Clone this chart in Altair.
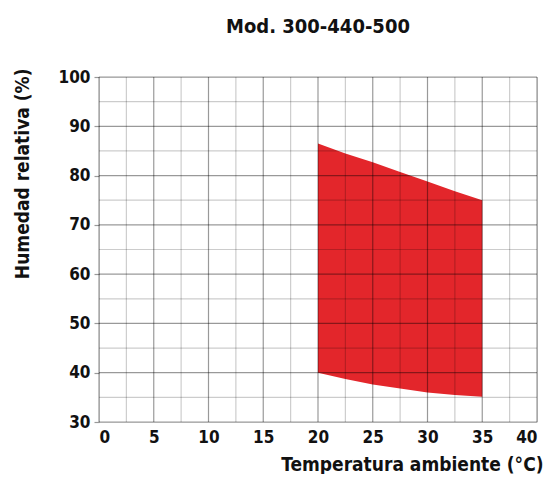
import altair as alt
import pandas as pd

# Data
temp = [20, 22.5, 25, 27.5, 30, 32.5, 35]
hum_max = [86.5, 84.5, 82.7, 80.7, 78.8, 76.8, 75.0]
hum_min = [40.0, 38.7, 37.6, 36.8, 36.0, 35.5, 35.1]

x_ticks = [0, 5, 10, 15, 20, 25, 30, 35, 40]
y_ticks = [30, 40, 50, 60, 70, 80, 90, 100]
x_grid = [i * 2.5 for i in range(17)]
y_grid = [30 + i * 5 for i in range(15)]

W, H = 438, 345
FONT = "'DejaVu Sans Condensed', 'Liberation Sans Narrow', 'Liberation Sans', sans-serif"

area_df = pd.DataFrame({"t": temp, "hmax": hum_max, "hmin": hum_min})
vg = pd.DataFrame({"x": x_grid, "major": [v % 5 == 0 for v in x_grid]})
hg = pd.DataFrame({"y": y_grid, "major": [v % 10 == 0 for v in y_grid]})

xscale = alt.Scale(domain=[0, 40], nice=False, zero=False)
yscale = alt.Scale(domain=[30, 100], nice=False, zero=False)

area = alt.Chart(area_df).mark_area(color="#e3262b", opacity=1).encode(
    x=alt.X("t:Q", scale=xscale,
            axis=alt.Axis(values=x_ticks, grid=False, ticks=False, domain=False,
                          labelFont=FONT, labelFontWeight="bold", labelFontSize=17,
                          labelColor="#111", labelPadding=7,
                          title="Temperatura ambiente (°C)", titleFont=FONT,
                          titleFontWeight="bold", titleFontSize=19, titleColor="#111",
                          titleAnchor="end", titleAlign="right", titleBaseline="alphabetic",
                          titleX=W + 6, titleY=48)),
    y=alt.Y("hmax:Q", scale=yscale,
            axis=alt.Axis(values=y_ticks, grid=False, ticks=True, tickSize=5,
                          tickColor="#999", tickWidth=1.2, domain=False,
                          labelFont=FONT, labelFontWeight="bold", labelFontSize=17,
                          labelColor="#111", labelPadding=4,
                          title="Humedad relativa (%)", titleFont=FONT,
                          titleFontWeight="bold", titleFontSize=19, titleColor="#111",
                          titleAnchor="end", titleAlign="right", titleBaseline="middle",
                          titleAngle=-90, titleX=-77, titleY=-9)),
    y2="hmin:Q",
)

op_scale = alt.Scale(domain=[True, False], range=[0.4, 0.2])
vrules = alt.Chart(vg).mark_rule(color="black", strokeWidth=1.2).encode(
    x=alt.X("x:Q", scale=xscale),
    opacity=alt.Opacity("major:N", scale=op_scale, legend=None),
)
hrules = alt.Chart(hg).mark_rule(color="black", strokeWidth=1.2).encode(
    y=alt.Y("y:Q", scale=yscale),
    opacity=alt.Opacity("major:N", scale=op_scale, legend=None),
)

chart = alt.layer(area, vrules, hrules).properties(
    width=W, height=H,
    title=alt.TitleParams("Mod. 300-440-500", font=FONT, fontWeight="bold",
                          fontSize=20, color="#111", anchor="middle", offset=31),
    autosize=alt.AutoSizeParams(type="none"),
    padding={"left": 91, "top": 69, "right": 9, "bottom": 52},
).configure_view(stroke=None).configure(background="white")

chart.save("out.html", embed_options={"renderer": "svg", "actions": False})
